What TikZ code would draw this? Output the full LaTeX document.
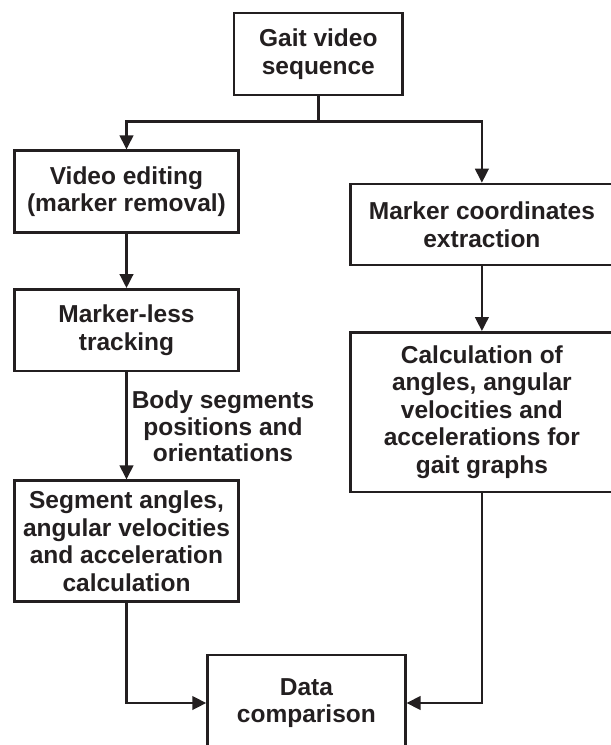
\documentclass[tikz,border=0pt]{standalone}
\usepackage{fontspec}
\setmainfont{Liberation Sans}
\usetikzlibrary{arrows.meta,calc}
\definecolor{ink}{RGB}{35,31,32}
\begin{document}
\begin{tikzpicture}[x=1pt,y=-1pt,
  box/.style={draw=ink, line width=2.6pt, inner sep=0pt, align=center,
    font=\fontsize{24.5}{27.5}\selectfont\bfseries, text=ink},
  lbl/.style={inner sep=0pt, align=center,
    font=\fontsize{24.5}{26.5}\selectfont\bfseries, text=ink},
  ln/.style={draw=ink, line width=2.6pt},
  arr/.style={ln, -{Triangle[length=14pt,width=13.5pt]}}]
\useasboundingbox (0,0) rectangle (611,745);
\node[box, minimum width=168.6pt, minimum height=82pt] (gait) at (318.3,54) {Gait video\\sequence};
\node[box, minimum width=224pt, minimum height=81.6pt] (edit) at (126.5,191.5) {Video editing\\(marker removal)};
\node[box, minimum width=262.3pt, minimum height=81pt] (mce) at (481.9,224.5) {Marker coordinates\\extraction};
\node[box, minimum width=224pt, minimum height=81.7pt] (mlt) at (126.5,330.2) {Marker-less\\tracking};
\node[box, minimum width=262.3pt, minimum height=159.7pt] (calc) at (481.9,412.2) {Calculation of\\angles, angular\\velocities and\\accelerations for\\gait graphs};
\node[box, minimum width=224pt, minimum height=121pt] (seg) at (126.5,541.2) {Segment angles,\\angular velocities\\and acceleration\\calculation};
\node[box, minimum width=197.7pt, minimum height=96pt] (data) at (306.4,703) {Data\\comparison};
\node[lbl] (body) at (223,426.5) {Body segments\\positions and\\orientations};
\coordinate (J) at (318.3,121.7);
\draw[ln] (gait.south) -- (J);
\draw[arr] (J) -| (edit.north);
\draw[arr] (J) -| (mce.north);
\draw[arr] (edit.south) -- (mlt.north);
\draw[arr] (mlt.south) -- (seg.north);
\draw[arr] (mce.south) -- (calc.north);
\draw[arr] (seg.south) |- (data.west);
\draw[arr] (calc.south) |- (data.east);
\end{tikzpicture}
\end{document}
